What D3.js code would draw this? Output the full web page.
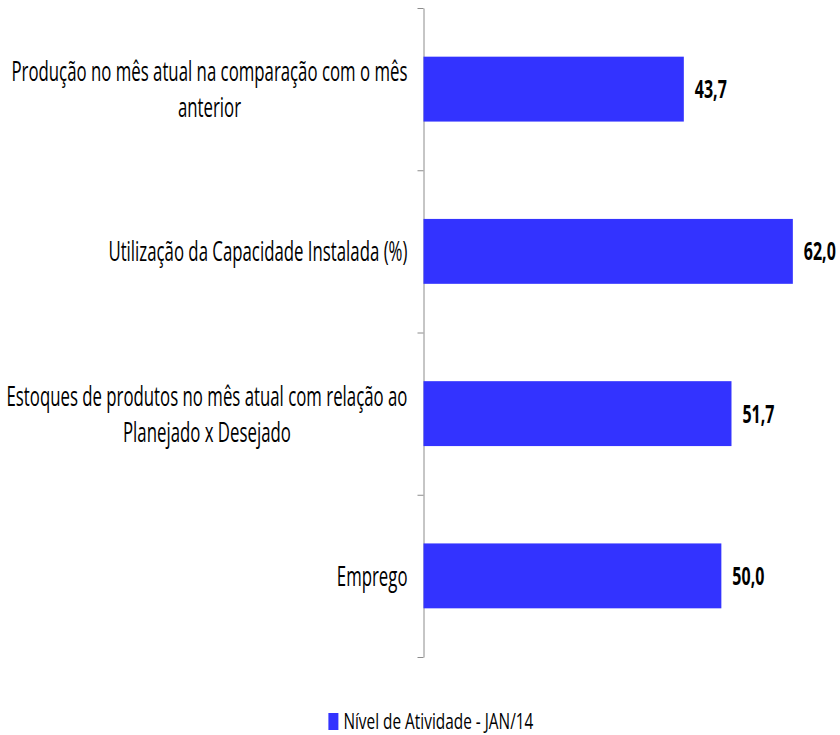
<!DOCTYPE html>
<html>
<head>
<meta charset="utf-8">
<script src="https://cdn.jsdelivr.net/npm/d3@7"></script>
<style>
  body { margin: 0; background: #fff; }
  text { font-family: 'Open Sans', sans-serif; }
</style>
</head>
<body>
<script>
// data
const categories = [
  ['Produção no mês atual na comparação com o mês', 'anterior'],
  ['Utilização da Capacidade Instalada (%)'],
  ['Estoques de produtos no mês atual com relação ao', 'Planejado x Desejado'],
  ['Emprego']
]
const values = [43.7, 62.0, 51.7, 50.0]
const seriesName = 'Nível de Atividade - JAN/14'

const fullWidth = 840
const fullHeight = 735
const barColor = '#3333ff'
// text in the reference is horizontally compressed
const catSqueeze = 0.6
const valSqueeze = 0.64
const legSqueeze = 0.7

const margin = {top: 8, left: 423.5, bottom: 78}
const plotBottom = fullHeight - margin.bottom

const svg = d3.select('body').append('svg')
  .attr('width', fullWidth)
  .attr('height', fullHeight)

// scales
const x = d3.scaleLinear().domain([0, 70]).range([margin.left, margin.left + 417])
const y = d3.scaleBand()
  .domain(d3.range(categories.length))
  .range([margin.top, plotBottom])
  .paddingInner(0.6)
  .paddingOuter(0.3)

// category boundaries for the tick marks
const yb = d3.scaleLinear().domain([0, categories.length]).range([margin.top, plotBottom])
const axis = svg.append('g')
  .attr('transform', 'translate(' + margin.left + ',0)')
  .call(d3.axisLeft(yb).tickValues(d3.range(categories.length + 1)).tickFormat('').tickSizeInner(6).tickSizeOuter(0))
axis.selectAll('path, line').attr('stroke', '#8c8c8c')

// bars
svg.selectAll('rect.bar')
  .data(values)
  .join('rect')
  .attr('class', 'bar')
  .attr('x', x(0))
  .attr('y', (d, i) => y(i))
  .attr('width', d => x(d) - x(0))
  .attr('height', y.bandwidth())
  .attr('fill', barColor)

// value labels
svg.selectAll('text.val')
  .data(values)
  .join('text')
  .attr('class', 'val')
  .attr('transform', (d, i) => 'translate(' + (x(d) + 11) + ',' + (y(i) + y.bandwidth() / 2 + 9) + ') scale(' + valSqueeze + ',1)')
  .attr('font-size', 25)
  .attr('font-weight', 'bold')
  .attr('fill', '#000')
  .text(d => d.toFixed(1).replace('.', ','))

// category labels: lines centred on the widest line, block right-aligned to the axis
const labelRight = margin.left - 16
const lineGap = 36
categories.forEach(function(lines, i) {
  const g = svg.append('g')
  const cy = y(i) + y.bandwidth() / 2
  const texts = lines.map(function(line) {
    return g.append('text')
      .attr('font-size', 28)
      .attr('fill', '#000')
      .attr('text-anchor', 'middle')
      .text(line)
  })
  const widest = d3.max(texts, t => t.node().getComputedTextLength()) * catSqueeze
  const cx = labelRight - widest / 2
  texts.forEach(function(t, j) {
    const ty = cy + (j - (lines.length - 1) / 2) * lineGap + 10
    t.attr('transform', 'translate(' + cx + ',' + ty + ') scale(' + catSqueeze + ',1)')
  })
})

// legend
const legend = svg.append('g')
const legendText = legend.append('text')
  .attr('font-size', 22)
  .attr('fill', '#000')
  .text(seriesName)
const lw = legendText.node().getComputedTextLength() * legSqueeze
const lx = 431 - (lw + 15) / 2
legend.append('rect')
  .attr('x', lx)
  .attr('y', 713)
  .attr('width', 10)
  .attr('height', 17)
  .attr('fill', barColor)
legendText.attr('transform', 'translate(' + (lx + 15) + ',729) scale(' + legSqueeze + ',1)')
</script>
</body>
</html>
